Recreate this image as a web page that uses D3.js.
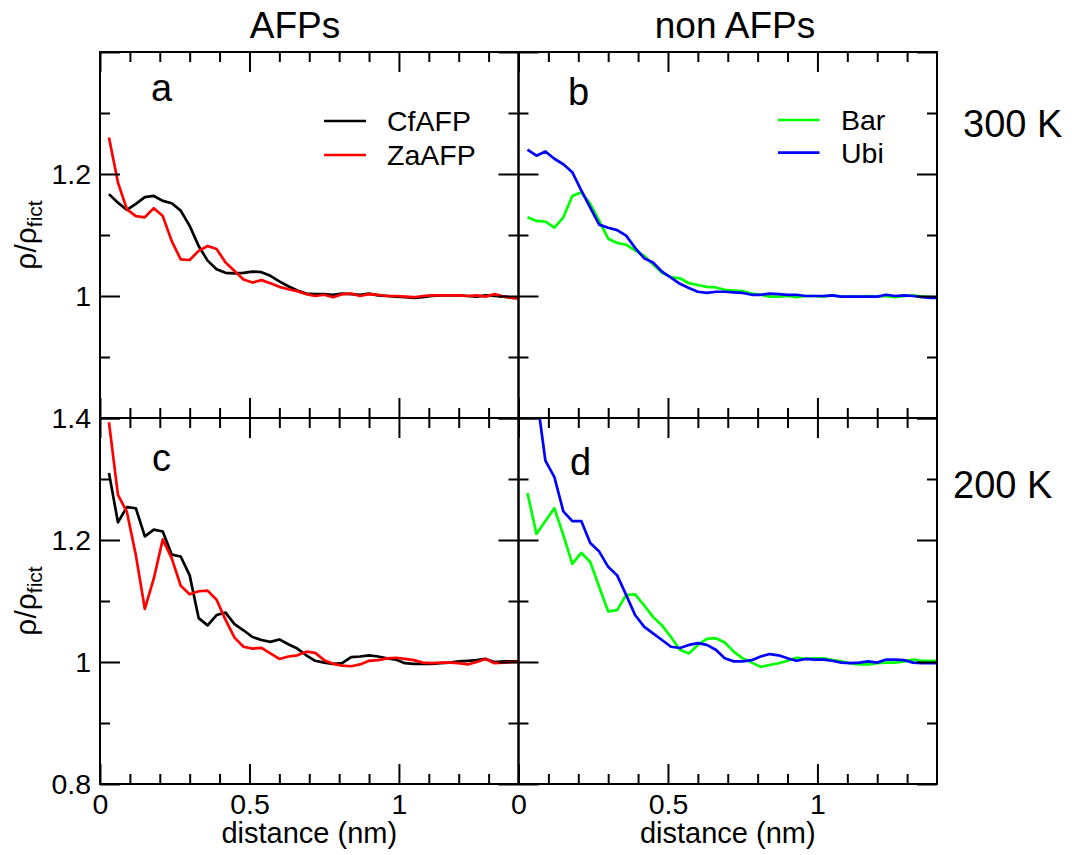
<!DOCTYPE html>
<html>
<head>
<meta charset="utf-8">
<script src="https://cdn.jsdelivr.net/npm/d3@7"></script>
<style>
  body { margin: 0; background: #fff; }
  svg { display: block; font-family: "Liberation Sans", Arial, sans-serif; }
</style>
</head>
<body>
<div id="vis"></div>
<script>
// datos (distancia en nm, rho/rho_fict)
const distance = [0.03, 0.06, 0.09, 0.12, 0.15, 0.18, 0.21, 0.24, 0.27, 0.30,
  0.33, 0.36, 0.39, 0.42, 0.45, 0.48, 0.51, 0.54, 0.57, 0.60,
  0.63, 0.66, 0.69, 0.72, 0.75, 0.78, 0.81, 0.84, 0.87, 0.90,
  0.93, 0.96, 0.99, 1.02, 1.05, 1.08, 1.11, 1.14, 1.17, 1.20,
  1.23, 1.26, 1.29, 1.32, 1.35, 1.38, 1.41];

const cfafp300 = [1.167, 1.153, 1.141, 1.151, 1.162, 1.164, 1.156, 1.152, 1.140, 1.115,
  1.082, 1.058, 1.044, 1.038, 1.037, 1.038, 1.040, 1.039, 1.033, 1.024,
  1.016, 1.009, 1.004, 1.003, 1.003, 1.002, 1.004, 1.003, 1.002, 1.004,
  1.001, 1.000, 0.999, 0.998, 0.997, 0.998, 1.000, 1.001, 1.001, 1.001,
  1.000, 0.999, 1.001, 1.000, 0.999, 0.997, 0.996];
const zaafp300 = [1.260, 1.186, 1.142, 1.131, 1.129, 1.144, 1.131, 1.090, 1.060, 1.059,
  1.074, 1.082, 1.077, 1.055, 1.041, 1.027, 1.022, 1.026, 1.021, 1.015,
  1.011, 1.008, 1.003, 1.000, 1.002, 0.998, 1.003, 1.004, 1.000, 1.003,
  1.002, 1.000, 1.000, 0.999, 0.998, 1.000, 1.001, 1.001, 1.001, 1.001,
  1.000, 1.001, 0.999, 1.003, 0.999, 0.997, 0.996];
const bar300 = [1.129, 1.123, 1.122, 1.112, 1.129, 1.164, 1.170, 1.151, 1.123, 1.094,
  1.087, 1.084, 1.075, 1.066, 1.052, 1.038, 1.031, 1.029, 1.021, 1.018,
  1.015, 1.014, 1.010, 1.009, 1.008, 1.004, 1.002, 0.999, 0.999, 1.000,
  0.998, 1.000, 1.000, 0.999, 1.001, 0.999, 0.999, 0.999, 1.000, 0.999,
  1.000, 0.998, 1.000, 1.001, 0.999, 0.998, 0.997];
const ubi300 = [1.240, 1.230, 1.237, 1.225, 1.216, 1.203, 1.173, 1.145, 1.117, 1.112,
  1.108, 1.099, 1.079, 1.062, 1.055, 1.040, 1.030, 1.020, 1.013, 1.007,
  1.005, 1.007, 1.007, 1.006, 1.005, 1.002, 1.002, 1.004, 1.003, 1.002,
  1.002, 1.000, 1.000, 1.000, 1.001, 0.999, 0.999, 0.999, 0.999, 0.999,
  1.002, 1.000, 1.001, 1.000, 0.998, 0.997, 0.997];

const cfafp200 = [1.310, 1.229, 1.254, 1.252, 1.206, 1.217, 1.214, 1.176, 1.173, 1.142,
  1.072, 1.060, 1.077, 1.081, 1.062, 1.052, 1.041, 1.036, 1.033, 1.037,
  1.029, 1.022, 1.011, 1.002, 0.999, 0.997, 0.998, 1.008, 1.009, 1.011,
  1.009, 1.006, 1.004, 0.998, 0.997, 0.997, 0.997, 0.998, 0.999, 1.001,
  1.002, 1.003, 1.005, 1.000, 1.001, 1.001, 1.001];
const zaafp200 = [1.393, 1.274, 1.246, 1.175, 1.087, 1.137, 1.201, 1.170, 1.125, 1.111,
  1.116, 1.117, 1.102, 1.069, 1.040, 1.025, 1.022, 1.023, 1.014, 1.005,
  1.009, 1.011, 1.017, 1.015, 1.003, 0.997, 0.994, 0.993, 0.996, 1.002,
  1.003, 1.006, 1.007, 1.005, 1.003, 0.999, 0.998, 0.999, 0.999, 0.998,
  0.996, 1.000, 1.005, 0.998, 0.999, 1.000, 1.000];
const bar200 = [1.277, 1.210, 1.231, 1.252, 1.208, 1.161, 1.179, 1.164, 1.123, 1.083,
  1.085, 1.110, 1.111, 1.093, 1.074, 1.060, 1.041, 1.020, 1.014, 1.028,
  1.038, 1.039, 1.032, 1.017, 1.006, 0.999, 0.992, 0.995, 0.998, 1.002,
  1.007, 1.005, 1.006, 1.006, 1.003, 1.001, 0.998, 0.996, 0.996, 0.998,
  0.999, 0.999, 1.001, 1.004, 1.002, 1.002, 1.002];
const ubi200 = [1.560, 1.440, 1.330, 1.303, 1.247, 1.231, 1.231, 1.195, 1.181, 1.156,
  1.142, 1.110, 1.077, 1.058, 1.047, 1.036, 1.025, 1.023, 1.028, 1.031,
  1.028, 1.020, 1.006, 1.001, 1.001, 1.003, 1.009, 1.013, 1.011, 1.006,
  1.002, 1.005, 1.004, 1.004, 1.002, 0.999, 0.998, 0.999, 1.001, 0.999,
  1.004, 1.004, 1.003, 0.999, 0.998, 0.998, 0.998];

const xMajorTicks = [0, 0.5, 1];
const xMinorTicks = [0.1, 0.2, 0.3, 0.4, 0.6, 0.7, 0.8, 0.9, 1.1, 1.2, 1.3];
const yMajorTicks = [0.8, 1, 1.2, 1.4];
const yMinorTicks = [0.9, 1.1, 1.3];
const yLabelsTop = [1, 1.2];
const yLabelsBottom = [0.8, 1, 1.2, 1.4];

const columnTitles = ["AFPs", "non AFPs"];
const rowTitles = ["300 K", "200 K"];

const WIDTH = 1072;
const HEIGHT = 855;
const PANEL_W = 418.5;
const PANEL_H = 366;
const LEFTS = [100, 518.5];
const TOPS = [52, 418];
const MAJOR = 20;
const MINOR = 10;

const SVG = d3.select("#vis").append("svg").attr("width", WIDTH).attr("height", HEIGHT);

const escalaX = d3.scaleLinear().domain([0, 1.4]).range([0, PANEL_W]);
const escalaY = d3.scaleLinear().domain([0.8, 1.4]).range([PANEL_H, 0]);

const paneles = [
  { id: "a", col: 0, row: 0, letra: [51, 49], series: [
      { name: "CfAFP", values: cfafp300, color: "#000000" },
      { name: "ZaAFP", values: zaafp300, color: "#ff0000" }],
    legend: { x1: 224, x2: 266, tx: 287, ys: [69, 103] } },
  { id: "b", col: 1, row: 0, letra: [49.5, 53], series: [
      { name: "Bar", values: bar300, color: "#00ff00" },
      { name: "Ubi", values: ubi300, color: "#0000ff" }],
    legend: { x1: 259.5, x2: 301, tx: 322.5, ys: [68, 100.7] } },
  { id: "c", col: 0, row: 1, letra: [52, 53], series: [
      { name: "CfAFP", values: cfafp200, color: "#000000" },
      { name: "ZaAFP", values: zaafp200, color: "#ff0000" }] },
  { id: "d", col: 1, row: 1, letra: [51.5, 57], series: [
      { name: "Bar", values: bar200, color: "#00ff00" },
      { name: "Ubi", values: ubi200, color: "#0000ff" }] }
];

const linea = d3.line()
  .x((d, i) => escalaX(distance[i]))
  .y(d => escalaY(d));

paneles.forEach(p => {
  const g = SVG.append("g")
    .attr("class", "panel-" + p.id)
    .attr("transform", `translate(${LEFTS[p.col]} ${TOPS[p.row]})`);

  g.append("clipPath").attr("id", "clip-" + p.id)
    .append("rect").attr("width", PANEL_W).attr("height", PANEL_H);

  // curvas
  const curvas = g.append("g").attr("clip-path", `url(#clip-${p.id})`);
  p.series.forEach(s => {
    curvas.append("path")
      .datum(s.values)
      .attr("fill", "none")
      .attr("stroke", s.color)
      .attr("stroke-width", 2.7)
      .attr("stroke-linejoin", "round")
      .attr("d", linea);
  });

  // ticks hacia adentro en los cuatro lados
  const yLabels = p.col === 0 ? (p.row === 0 ? yLabelsTop : yLabelsBottom) : [];
  const fmtY = d => yLabels.includes(d) ? d3.format("")(d) : "";
  const fmtX = d => p.row === 1 ? d3.format("")(d) : "";

  const ejes = [
    { ax: d3.axisLeft(escalaY), t: [0, 0], major: yMajorTicks, minor: yMinorTicks, fmt: fmtY, pad: 9 },
    { ax: d3.axisRight(escalaY), t: [PANEL_W, 0], major: yMajorTicks, minor: yMinorTicks, fmt: () => "", pad: 9 },
    { ax: d3.axisBottom(escalaX), t: [0, PANEL_H], major: xMajorTicks, minor: xMinorTicks, fmt: fmtX, pad: 10 },
    { ax: d3.axisTop(escalaX), t: [0, 0], major: xMajorTicks, minor: xMinorTicks, fmt: () => "", pad: 9 }
  ];
  ejes.forEach(e => {
    const gMaj = g.append("g")
      .attr("transform", `translate(${e.t[0]} ${e.t[1]})`)
      .call(e.ax.tickValues(e.major).tickSize(-MAJOR).tickPadding(e.pad).tickFormat(e.fmt));
    gMaj.select(".domain").remove();
    gMaj.selectAll("line").attr("stroke-width", 2);
    gMaj.selectAll("text").attr("font-size", 28.5).attr("font-family", "Liberation Sans, Arial, sans-serif").attr("fill", "#000");

    const gMin = g.append("g")
      .attr("transform", `translate(${e.t[0]} ${e.t[1]})`)
      .call(e.ax.tickValues(e.minor).tickSize(-MINOR).tickFormat(""));
    gMin.select(".domain").remove();
    gMin.selectAll("line").attr("stroke-width", 2);
  });

  g.append("rect")
    .attr("width", PANEL_W).attr("height", PANEL_H)
    .attr("fill", "none").attr("stroke", "#000").attr("stroke-width", 2);

  g.append("text")
    .attr("x", p.letra[0]).attr("y", p.letra[1])
    .attr("font-size", 38)
    .text(p.id);

  if (p.legend) {
    p.series.forEach((s, i) => {
      g.append("line")
        .attr("x1", p.legend.x1).attr("x2", p.legend.x2)
        .attr("y1", p.legend.ys[i]).attr("y2", p.legend.ys[i])
        .attr("stroke", s.color).attr("stroke-width", 2.7);
      g.append("text")
        .attr("x", p.legend.tx).attr("y", p.legend.ys[i] + 10)
        .attr("font-size", 28.5)
        .text(s.name);
    });
  }

  if (p.row === 1) {
    g.append("text")
      .attr("x", PANEL_W / 2).attr("y", 425)
      .attr("text-anchor", "middle")
      .attr("font-size", 29)
      .text("distance (nm)");
  }

  if (p.col === 0) {
    const yl = g.append("text")
      .attr("transform", `translate(${36 - LEFTS[0]} ${PANEL_H / 2}) rotate(-90)`)
      .attr("text-anchor", "middle")
      .attr("font-size", 30);
    yl.append("tspan").text("ρ/ρ");
    yl.append("tspan").attr("font-size", 21).attr("dy", 6).text("fict");
  }
});

// titulos de columnas y filas
SVG.selectAll(".colTitle")
  .data(columnTitles)
  .join("text")
  .attr("class", "colTitle")
  .attr("x", (d, i) => i === 0 ? 295 : 735)
  .attr("y", 38)
  .attr("text-anchor", "middle")
  .attr("font-size", 37)
  .text(d => d);

SVG.selectAll(".rowTitle")
  .data(rowTitles)
  .join("text")
  .attr("class", "rowTitle")
  .attr("x", (d, i) => i === 0 ? 963 : 953)
  .attr("y", (d, i) => i === 0 ? 137 : 498)
  .attr("font-size", 38)
  .text(d => d);
</script>
</body>
</html>
